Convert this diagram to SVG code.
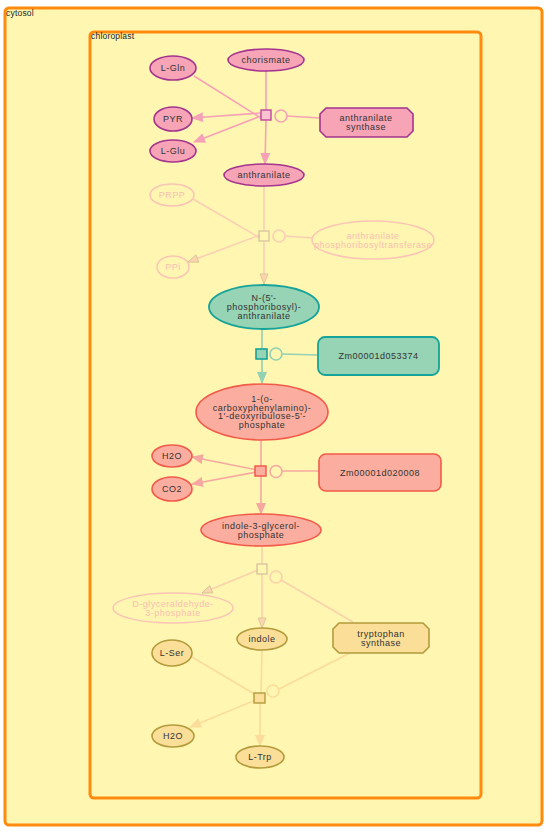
<svg xmlns="http://www.w3.org/2000/svg" width="550" height="832" viewBox="0 0 550 832">
<style>
text{font-family:"Liberation Sans",Arial,sans-serif;font-size:9px;letter-spacing:0.5px;fill:#333;text-anchor:middle;dominant-baseline:central}
.comp{fill:#fff6b2;stroke:#ff8a0d;stroke-width:3}
.clab{text-anchor:start;font-size:8.5px;letter-spacing:0.2px;fill:#222}
.pk{fill:#f7a4b7;stroke:#a3358f;stroke-width:1.6}
.tl{fill:#97d3b5;stroke:#16a39a;stroke-width:1.8}
.sa{fill:#fbae9f;stroke:#f25a4a;stroke-width:1.6}
.tn{fill:#fbde97;stroke:#b39b3c;stroke-width:1.6}
.fd{fill:none;stroke:#fbc4b4;stroke-width:1.5}
.fdt{fill:#f9c0b0}
.epk{stroke:#f7a1b6;stroke-width:1.6;fill:none}
.etl{stroke:#92d1b3;stroke-width:1.6;fill:none}
.esa{stroke:#f6a8a0;stroke-width:1.6;fill:none}
.etn{stroke:#fbdc9a;stroke-width:1.6;fill:none}
.faded{opacity:0.45}
</style>
<defs>
<marker id="apk" markerWidth="12" markerHeight="10" refX="11" refY="5" orient="auto" markerUnits="userSpaceOnUse"><path d="M0,0 L12,5 L0,10 Z" fill="#f7a1b6"/></marker>
<marker id="atl" markerWidth="12" markerHeight="10" refX="11" refY="5" orient="auto" markerUnits="userSpaceOnUse"><path d="M0,0 L12,5 L0,10 Z" fill="#92d1b3"/></marker>
<marker id="asa" markerWidth="12" markerHeight="10" refX="11" refY="5" orient="auto" markerUnits="userSpaceOnUse"><path d="M0,0 L12,5 L0,10 Z" fill="#f6a8a0"/></marker>
<marker id="atn" markerWidth="12" markerHeight="10" refX="11" refY="5" orient="auto" markerUnits="userSpaceOnUse"><path d="M0,0 L12,5 L0,10 Z" fill="#fbdc9a"/></marker>
<marker id="afd" markerWidth="12" markerHeight="10" refX="11" refY="5" orient="auto" markerUnits="userSpaceOnUse"><path d="M1,1 L11,5 L1,9 Z" fill="#f2b0a8" stroke="#b08070" stroke-width="0.8"/></marker>
</defs>
<rect width="550" height="832" fill="#ffffff"/>
<g id="cytosol"><rect class="comp" x="5" y="8" width="537" height="817" rx="4"/><text class="clab" x="6" y="13">cytosol</text></g>
<g id="chloroplast"><rect class="comp" x="90" y="32" width="391" height="766" rx="4"/><text class="clab" x="91" y="36">chloroplast</text></g>

<g id="connectors">
<g id="r1">
<line class="epk" x1="266" y1="71" x2="266" y2="110"/>
<line class="epk" x1="266" y1="120" x2="265" y2="164" marker-end="url(#apk)"/>
<line class="epk" x1="194" y1="76" x2="261" y2="118"/>
<line class="epk" x1="261" y1="113" x2="192" y2="118" marker-end="url(#apk)"/>
<line class="epk" x1="261" y1="116" x2="194" y2="142" marker-end="url(#apk)"/>
<line class="epk" x1="287" y1="116" x2="320" y2="118"/>
<rect x="261" y="110" width="10" height="10" fill="#fbc3cf" stroke="#c0479c" stroke-width="1.4"/>
<circle cx="281" cy="116" r="6" fill="#fff6b2" stroke="#f7a1b6" stroke-width="1.6"/>
</g>
<g id="r2" class="faded">
<line class="epk" x1="264" y1="186" x2="264" y2="230"/>
<line class="epk" x1="264" y1="242" x2="264" y2="284" marker-end="url(#afd)"/>
<line class="epk" x1="193" y1="199" x2="260" y2="238"/>
<line class="epk" x1="260" y1="235" x2="188" y2="262" marker-end="url(#afd)"/>
<line class="epk" x1="285" y1="236" x2="312" y2="238"/>
<rect x="259" y="231" width="10" height="10" fill="none" stroke="#a07a80" stroke-width="1.2"/>
<circle cx="279" cy="236" r="6" fill="#fff6b2" stroke="#f7a1b6" stroke-width="1.6"/>
</g>
<g id="r3">
<line class="etl" x1="262" y1="329" x2="262" y2="349"/>
<line class="etl" x1="262" y1="358" x2="262" y2="383" marker-end="url(#atl)"/>
<line class="etl" x1="282" y1="354" x2="318" y2="355"/>
<rect x="256" y="349" width="11" height="10" fill="#97d3b5" stroke="#16a39a" stroke-width="1.6"/>
<circle cx="276" cy="354" r="6" fill="#fff6b2" stroke="#92d1b3" stroke-width="1.6"/>
</g>
<g id="r4">
<line class="esa" x1="261" y1="440" x2="261" y2="466"/>
<line class="esa" x1="261" y1="476" x2="261" y2="514" marker-end="url(#asa)"/>
<line class="esa" x1="257" y1="470" x2="192" y2="457" marker-end="url(#asa)"/>
<line class="esa" x1="257" y1="472" x2="192" y2="484" marker-end="url(#asa)"/>
<line class="esa" x1="282" y1="471" x2="319" y2="471"/>
<rect x="255" y="466" width="11" height="10" fill="#fbae9f" stroke="#f25a4a" stroke-width="1.5"/>
<circle cx="276" cy="471.5" r="6" fill="#fff6b2" stroke="#f6a8a0" stroke-width="1.6"/>
</g>
<g id="r5" class="faded">
<line class="esa" x1="262" y1="546" x2="262" y2="564"/>
<line class="esa" x1="262" y1="574" x2="262" y2="628" marker-end="url(#afd)"/>
<line class="esa" x1="258" y1="570" x2="202" y2="593" marker-end="url(#afd)"/>
<line class="esa" x1="281" y1="580" x2="353" y2="622"/>
<rect x="257" y="564" width="10" height="10" fill="none" stroke="#a07a80" stroke-width="1.2"/>
<circle cx="276" cy="577" r="6" fill="#fff6b2" stroke="#f6a8a0" stroke-width="1.6"/>
</g>
<g id="r6">
<line class="etn" x1="262" y1="650" x2="261" y2="693"/>
<line class="etn" x1="192" y1="657" x2="256" y2="695"/>
<line class="etn" x1="256" y1="700" x2="190" y2="727" marker-end="url(#atn)"/>
<line class="etn" x1="260" y1="703" x2="260" y2="746" marker-end="url(#atn)"/>
<line class="etn" x1="279" y1="689" x2="350" y2="653"/>
<rect x="254" y="693" width="11" height="10" fill="#fbde97" stroke="#b39b3c" stroke-width="1.4"/>
<circle cx="273" cy="691" r="6" fill="#fff6b2" stroke="#fbdc9a" stroke-width="1.6"/>
</g>
</g>

<g id="chorismate"><ellipse class="pk" cx="266" cy="60" rx="38" ry="11"/><text x="266" y="60">chorismate</text></g>
<g id="L-Gln"><ellipse class="pk" cx="173" cy="68" rx="23" ry="12"/><text x="173" y="68">L-Gln</text></g>
<g id="PYR"><ellipse class="pk" cx="173" cy="119" rx="19" ry="12"/><text x="173" y="119">PYR</text></g>
<g id="L-Glu"><ellipse class="pk" cx="173" cy="151" rx="23" ry="11"/><text x="173" y="151">L-Glu</text></g>
<g id="anthranilate"><ellipse class="pk" cx="264" cy="175" rx="40" ry="11"/><text x="264" y="175">anthranilate</text></g>
<g id="anthranilate-synthase"><polygon class="pk" points="326,108 407,108 413,114 413,131 407,137 326,137 320,131 320,114"/><text x="366" y="118">anthranilate</text><text x="366" y="127">synthase</text></g>

<g id="PRPP"><ellipse class="fd" cx="172" cy="195" rx="22" ry="11"/><text class="fdt" x="172" y="195">PRPP</text></g>
<g id="PPi"><ellipse class="fd" cx="173" cy="267" rx="16" ry="11"/><text class="fdt" x="173" y="267">PPi</text></g>
<g id="anthranilate-phosphoribosyltransferase"><ellipse class="fd" cx="373" cy="240" rx="61" ry="19"/><text class="fdt" x="373" y="235.5">anthranilate</text><text class="fdt" x="373" y="244.5">phosphoribosyltransferase</text></g>

<g id="N-5-phosphoribosyl-anthranilate"><ellipse class="tl" cx="264" cy="307" rx="55" ry="22"/><text x="264" y="298">N-(5'-</text><text x="264" y="307">phosphoribosyl)-</text><text x="264" y="315.5">anthranilate</text></g>
<g id="Zm00001d053374"><rect class="tl" x="318" y="337" width="121" height="38" rx="7"/><text x="378.5" y="356">Zm00001d053374</text></g>

<g id="CDRP"><ellipse class="sa" cx="262" cy="412" rx="66" ry="28"/><text x="262" y="399">1-(o-</text><text x="262" y="407.5">carboxyphenylamino)-</text><text x="262" y="416">1'-deoxyribulose-5'-</text><text x="262" y="424.5">phosphate</text></g>
<g id="H2O-1"><ellipse class="sa" cx="172" cy="456" rx="20" ry="11"/><text x="172" y="456">H2O</text></g>
<g id="CO2"><ellipse class="sa" cx="172" cy="489" rx="20" ry="12"/><text x="172" y="489">CO2</text></g>
<g id="Zm00001d020008"><rect class="sa" x="319" y="454" width="122" height="37" rx="7"/><text x="380" y="472.5">Zm00001d020008</text></g>
<g id="indole-3-glycerol-phosphate"><ellipse class="sa" cx="261" cy="530" rx="60" ry="16"/><text x="261" y="525.5">indole-3-glycerol-</text><text x="261" y="534.5">phosphate</text></g>

<g id="D-glyceraldehyde-3-phosphate"><ellipse class="fd" cx="173" cy="608" rx="60" ry="15"/><text class="fdt" x="173" y="603.5">D-glyceraldehyde-</text><text class="fdt" x="173" y="612.5">3-phosphate</text></g>
<g id="indole"><ellipse class="tn" cx="262" cy="639" rx="25" ry="11"/><text x="262" y="639">indole</text></g>
<g id="tryptophan-synthase"><polygon class="tn" points="339,623 423,623 429,629 429,647 423,653 339,653 333,647 333,629"/><text x="381" y="634">tryptophan</text><text x="381" y="642.5">synthase</text></g>
<g id="L-Ser"><ellipse class="tn" cx="172" cy="653" rx="20" ry="13"/><text x="172" y="653">L-Ser</text></g>
<g id="H2O-2"><ellipse class="tn" cx="173" cy="736" rx="21" ry="11"/><text x="173" y="736">H2O</text></g>
<g id="L-Trp"><ellipse class="tn" cx="260" cy="757" rx="24" ry="11"/><text x="260" y="757">L-Trp</text></g>
</svg>
